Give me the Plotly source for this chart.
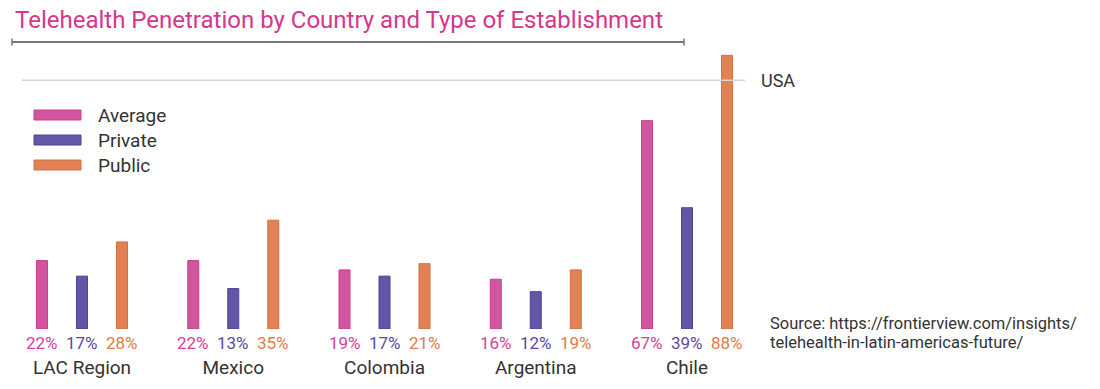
import plotly.graph_objects as go

categories = ["LAC Region", "Mexico", "Colombia", "Argentina", "Chile"]
series_names = ["Average", "Private", "Public"]
average = [22, 22, 19, 16, 67]
private = [17, 13, 17, 12, 39]
public = [28, 35, 21, 19, 88]
usa_value = 80
title_text = "Telehealth Penetration by Country and Type of Establishment"
source_lines = ["Source: https://frontierview.com/insights/", "telehealth-in-latin-americas-future/"]

bar_colors = ["#d3559f", "#6356a6", "#e18155"]
line_colors = ["#c8408c", "#4f4396", "#d5703f"]
text_colors = ["#d6409a", "#5a4aa6", "#e47a45"]

OFF = 0  # page body margin removed via post_script
W, H = 1100, 389
ML, MR, MT, MB = 0, 340, 40, 60
PW, PH = W - ML - MR, H - MT - MB
FONT = "Roboto"


def px(x):
    return (x - OFF - ML) / PW


def py(y):
    return (H - MB - (y - OFF)) / PH


fig = go.Figure()
all_series = [average, private, public]
for name, vals, c, lc in zip(series_names, all_series, bar_colors, line_colors):
    fig.add_trace(go.Bar(
        x=categories, y=vals, name=name,
        marker=dict(color=c, line=dict(color=lc, width=1)),
        showlegend=False, hoverinfo="x+y+name",
    ))

annotations = []
bar_offset_px = 40
for j, (vals, tc) in enumerate(zip(all_series, text_colors)):
    for cat, v in zip(categories, vals):
        annotations.append(dict(
            x=cat, y=0, xref="x", yref="y", text=f"{v}%", showarrow=False,
            xshift=(j - 1) * bar_offset_px, yanchor="top", yshift=-2,
            font=dict(family=FONT, size=17, color=tc),
        ))

# Title
annotations.append(dict(
    x=px(13), y=py(20), xref="paper", yref="paper", text=title_text,
    showarrow=False, xanchor="left", yanchor="middle",
    font=dict(family=FONT, size=24, color="#d6368c"),
))

# Legend (manual)
shapes = []
for i, (name, c, lc) in enumerate(zip(series_names, bar_colors, line_colors)):
    yc = 115 + 25 * i
    shapes.append(dict(type="rect", xref="paper", yref="paper",
                       x0=px(34), x1=px(81), y0=py(yc - 5), y1=py(yc + 5),
                       fillcolor=c, line=dict(color=lc, width=1), layer="above"))
    annotations.append(dict(
        x=px(96), y=py(yc), xref="paper", yref="paper", text=name,
        showarrow=False, xanchor="left", yanchor="middle",
        font=dict(family=FONT, size=19, color="#333333"),
    ))

# Title underline with end caps
shapes.append(dict(type="line", xref="paper", yref="paper",
                   x0=px(12), x1=px(684), y0=py(42), y1=py(42),
                   line=dict(color="#777777", width=2)))
for xx in (12, 684):
    shapes.append(dict(type="line", xref="paper", yref="paper",
                       x0=px(xx), x1=px(xx), y0=py(38.5), y1=py(45.5),
                       line=dict(color="#777777", width=1.5)))

# USA reference line
shapes.append(dict(type="line", xref="paper", yref="y",
                   x0=px(22), x1=px(745), y0=usa_value, y1=usa_value,
                   line=dict(color="#d4d4d4", width=1.5), layer="above"))
annotations.append(dict(
    x=px(759), y=usa_value, xref="paper", yref="y", text="USA",
    showarrow=False, xanchor="left", yanchor="middle",
    font=dict(family=FONT, size=18, color="#333333"),
))

# Source
for k, line in enumerate(source_lines):
    annotations.append(dict(
        x=px(768), y=py(323 + 19.5 * k), xref="paper", yref="paper", text=line,
        showarrow=False, xanchor="left", yanchor="middle",
        font=dict(family=FONT, size=16.5, color="#333333"),
    ))

cat_px = 151.25
first_px = 82 - OFF
fig.update_layout(
    width=W, height=H,
    margin=dict(l=ML, r=MR, t=MT, b=MB, pad=0),
    paper_bgcolor="white", plot_bgcolor="white",
    barmode="group", bargap=1 - 3 * bar_offset_px / cat_px, bargroupgap=0.725,
    showlegend=False,
    xaxis=dict(
        type="category",
        range=[(0 - first_px) / cat_px, (PW - first_px) / cat_px],
        showgrid=False, zeroline=False, showline=False, ticks="",
        tickfont=dict(family=FONT, size=19, color="#333333"),
        ticklabelstandoff=25,
    ),
    yaxis=dict(range=[0, PH / 3.11], visible=False, showgrid=False, zeroline=False),
    annotations=annotations, shapes=shapes,
    font=dict(family=FONT),
)

fig.write_html(
    "out.html",
    config={"displayModeBar": False},
    post_script="document.body.style.margin='0px';document.body.style.overflow='hidden';",
)
